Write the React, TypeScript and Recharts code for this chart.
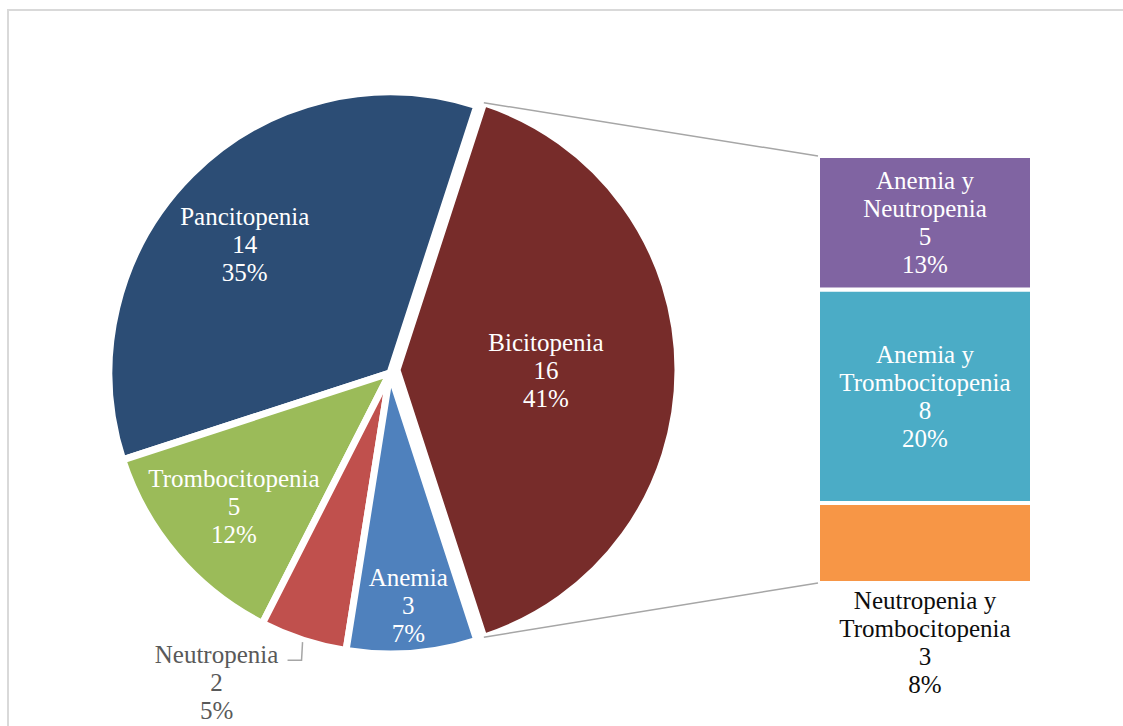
import React from 'react';
import { PieChart, Pie, Cell, BarChart, Bar, XAxis, YAxis } from 'recharts';

// ---------- data ----------
const PIE_NAMES = ['Pancitopenia', 'Trombocitopenia', 'Neutropenia', 'Anemia', 'Bicitopenia'];
const PIE_VALUES = [14, 5, 2, 3, 16];
const PIE_PERCENTS = ['35%', '12%', '5%', '7%', '41%'];
const EXPLODED = 'Bicitopenia';

const BAR_NAMES = ['Neutropenia y Trombocitopenia', 'Anemia y Trombocitopenia', 'Anemia y Neutropenia'];
const BAR_VALUES = [3, 8, 5];
const BAR_PERCENTS = ['8%', '20%', '13%'];

// ---------- styles / layout ----------
const PIE_COLORS = ['#2C4D75', '#9BBB59', '#C0504D', '#4F81BD', '#772C2A'];
const BAR_COLORS = ['#F79646', '#4BACC6', '#8064A2'];
const FONT = '"Liberation Serif", "DejaVu Serif", serif';
const FONT_SIZE = 25;
const LINE_H = 28;

const PIE_CX = 390;
const PIE_CY = 373;
const PIE_R = 281;
const EXPLODE_CX = 397;
const EXPLODE_CY = 370;

const BAR_LEFT = 800;
const BAR_TOP = 156;
const BAR_W = 250;
const BAR_H = 427;
const BAR_BELOW = 140;
const BAR_SIZE = 214;

// label placement: radius fraction and angle adjustment relative to slice mid angle
const LABEL_PLACE: Record<string, { r: number; da: number; outside?: boolean }> = {
  Pancitopenia: { r: 0.69, da: 3.5 },
  Trombocitopenia: { r: 0.73, da: 0 },
  Anemia: { r: 0.83, da: 0 },
  Bicitopenia: { r: 0.53, da: 0 },
  Neutropenia: { r: 1, da: 0, outside: true },
};

const RADIAN = Math.PI / 180;
const pieData = PIE_NAMES.map((name, i) => ({ name, value: PIE_VALUES[i], pct: PIE_PERCENTS[i] }));
const barRow: Record<string, any> = { name: EXPLODED };
BAR_NAMES.forEach((n, i) => (barRow['s' + i] = BAR_VALUES[i]));
const barData = [barRow];
const barTotal = BAR_VALUES.reduce((a, b) => a + b, 0);

const textLines = (lines: string[], x: number, yCenter: number, fill: string, key: string) => {
  const y0 = yCenter - (LINE_H * (lines.length - 1)) / 2;
  return lines.map((t, i) => (
    <text
      key={key + i}
      x={x}
      y={y0 + i * LINE_H}
      textAnchor="middle"
      dominantBaseline="central"
      fill={fill}
      fontSize={FONT_SIZE}
      fontFamily={FONT}
    >
      {t}
    </text>
  ));
};

const makePieLabel = (exploded: boolean) => (props: any) => {
  const { cx, cy, midAngle, outerRadius, index } = props;
  const name = PIE_NAMES[index];
  if ((name === EXPLODED) !== exploded) return null;
  const place = LABEL_PLACE[name];
  const lines = [name, String(PIE_VALUES[index]), PIE_PERCENTS[index]];
  if (place.outside) {
    const sx = cx + (outerRadius + 2) * Math.cos(-midAngle * RADIAN);
    const sy = cy + (outerRadius + 2) * Math.sin(-midAngle * RADIAN);
    const ly = sy + 18;
    return (
      <g>
        <path d={`M${sx},${sy} L${sx - 1},${ly} L${sx - 15},${ly}`} stroke="#A6A6A6" strokeWidth={1.5} fill="none" />
        {textLines(lines, sx - 86, ly + LINE_H - 6, '#595959', 'n')}
      </g>
    );
  }
  const a = midAngle + place.da;
  const r = outerRadius * place.r;
  const x = cx + r * Math.cos(-a * RADIAN);
  const y = cy + r * Math.sin(-a * RADIAN);
  return <g>{textLines(lines, x, y, '#FFFFFF', name)}</g>;
};

const makeBarLabel = (i: number) => (props: any) => {
  const vb = props.viewBox || {};
  const x = props.x ?? vb.x;
  const y = props.y ?? vb.y;
  const width = props.width ?? vb.width;
  const height = props.height ?? vb.height;
  const name = BAR_NAMES[i];
  const parts = name.split(' y ');
  const lines = [parts[0] + ' y', parts[1], String(BAR_VALUES[i]), BAR_PERCENTS[i]];
  const outside = i === 0;
  const cxl = x + width / 2;
  if (outside) {
    const top = y + height + 17;
    return <g>{textLines(lines, cxl, top + (LINE_H * 3) / 2, '#0D0D0D', 'b' + i)}</g>;
  }
  return <g>{textLines(lines, cxl, y + height / 2, '#FFFFFF', 'b' + i)}</g>;
};

export default function App() {
  const angStart = 72;
  const bTopAngle = angStart * RADIAN;
  const sxTop = EXPLODE_CX + PIE_R * Math.cos(bTopAngle);
  const syTop = EXPLODE_CY - PIE_R * Math.sin(bTopAngle);
  const syBot = EXPLODE_CY + PIE_R * Math.sin(bTopAngle);
  const barX = BAR_LEFT + (BAR_W - BAR_SIZE) / 2;

  return (
    <div style={{ position: 'absolute', left: 0, top: 0, width: 1123, height: 726, overflow: 'hidden', background: '#fff' }}>
      <div
        style={{
          position: 'absolute',
          left: 7,
          top: 9,
          width: 1300,
          height: 900,
          borderTop: '2px solid #D9D9D9',
          borderLeft: '2px solid #D9D9D9',
        }}
      />
      <div style={{ position: 'absolute', left: 0, top: 0 }}>
        <PieChart width={1123} height={726} margin={{ top: 0, right: 0, bottom: 0, left: 0 }}>
          <Pie
            data={pieData}
            dataKey="value"
            nameKey="name"
            cx={PIE_CX}
            cy={PIE_CY}
            outerRadius={PIE_R}
            startAngle={angStart}
            endAngle={angStart + 360}
            stroke="#FFFFFF"
            strokeWidth={7}
            isAnimationActive={false}
            label={makePieLabel(false)}
            labelLine={false}
          >
            {pieData.map((d, i) => (
              <Cell
                key={d.name}
                fill={d.name === EXPLODED ? 'none' : PIE_COLORS[i]}
                stroke={d.name === EXPLODED ? 'none' : '#FFFFFF'}
              />
            ))}
          </Pie>
          <Pie
            data={pieData}
            dataKey="value"
            nameKey="name"
            cx={EXPLODE_CX}
            cy={EXPLODE_CY}
            outerRadius={PIE_R}
            startAngle={angStart}
            endAngle={angStart + 360}
            stroke="#FFFFFF"
            strokeWidth={7}
            isAnimationActive={false}
            label={makePieLabel(true)}
            labelLine={false}
          >
            {pieData.map((d, i) => (
              <Cell
                key={d.name}
                fill={d.name === EXPLODED ? PIE_COLORS[i] : 'none'}
                stroke={d.name === EXPLODED ? '#FFFFFF' : 'none'}
              />
            ))}
          </Pie>
        </PieChart>
      </div>
      <div style={{ position: 'absolute', left: BAR_LEFT, top: BAR_TOP }}>
        <BarChart
          width={BAR_W}
          height={BAR_H + BAR_BELOW}
          data={barData}
          margin={{ top: 0, right: 0, bottom: BAR_BELOW, left: 0 }}
          barCategoryGap={0}
          barSize={BAR_SIZE}
        >
          <XAxis dataKey="name" hide />
          <YAxis type="number" domain={[0, barTotal]} hide />
          {BAR_NAMES.map((n, i) => (
            <Bar
              key={n}
              dataKey={'s' + i}
              stackId="a"
              fill={BAR_COLORS[i]}
              stroke="#FFFFFF"
              strokeWidth={4}
              isAnimationActive={false}
              label={makeBarLabel(i)}
            />
          ))}
        </BarChart>
      </div>
      <svg width={1123} height={726} style={{ position: 'absolute', left: 0, top: 0, pointerEvents: 'none' }}>
        <line x1={sxTop} y1={syTop} x2={barX} y2={BAR_TOP} stroke="#A6A6A6" strokeWidth={1.5} />
        <line x1={sxTop} y1={syBot} x2={barX} y2={BAR_TOP + BAR_H} stroke="#A6A6A6" strokeWidth={1.5} />
      </svg>
    </div>
  );
}
